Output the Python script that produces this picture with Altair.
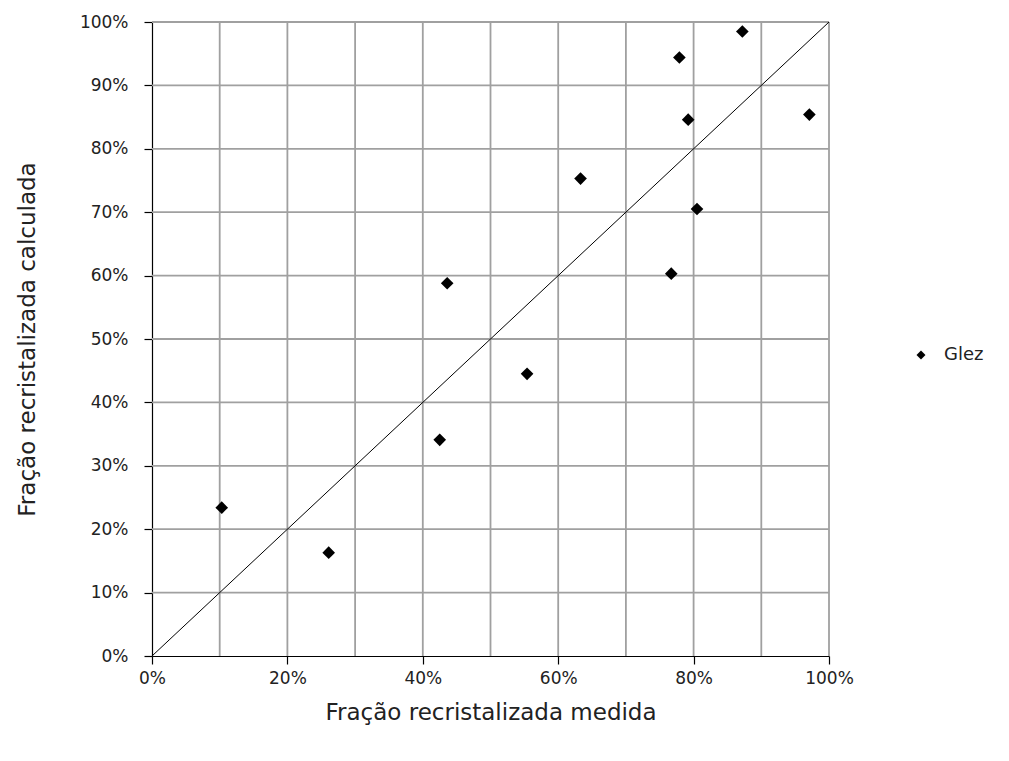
import altair as alt
import pandas as pd

# Data
medida = [0.103, 0.261, 0.425, 0.436, 0.554, 0.633, 0.767, 0.779, 0.792, 0.805, 0.872, 0.971]
calculada = [0.234, 0.163, 0.341, 0.588, 0.445, 0.753, 0.603, 0.944, 0.846, 0.705, 0.985, 0.854]
serie = ["Glez"] * len(medida)

grid_vals = [0.1, 0.2, 0.3, 0.4, 0.5, 0.6, 0.7, 0.8, 0.9, 1.0]
x_ticks = [0.0, 0.2, 0.4, 0.6, 0.8, 1.0]
y_ticks = [0.0, 0.1, 0.2, 0.3, 0.4, 0.5, 0.6, 0.7, 0.8, 0.9, 1.0]
diag = [0.0, 1.0]

FONT = "DejaVu Sans"
TXT = "#222222"

pts = pd.DataFrame({"medida": medida, "calculada": calculada, "serie": serie})
grid_df = pd.DataFrame({"g": grid_vals})
diag_df = pd.DataFrame({"a": diag, "b": diag})

xscale = alt.Scale(domain=[0, 1], nice=False, zero=True)
yscale = alt.Scale(domain=[0, 1], nice=False, zero=True)

XT = "Fração recristalizada medida"
YT = "Fração recristalizada calculada"

common = dict(
    format=".0%",
    grid=False,
    tickSize=8,
    tickColor="black",
    domainColor="black",
    domainWidth=1.2,
    tickWidth=1.2,
    labelFlush=False,
    labelFont=FONT,
    titleFont=FONT,
    labelFontSize=17,
    titleFontSize=23,
    titleFontWeight="normal",
    labelColor=TXT,
    titleColor=TXT,
)

xaxis = alt.Axis(title=XT, values=x_ticks, labelPadding=6, titlePadding=15, **common)
yaxis = alt.Axis(title=YT, values=y_ticks, labelPadding=16, titlePadding=40, **common)

grid_color = "#a0a0a0"

points = alt.Chart(pts).mark_point(filled=True, opacity=1, size=160, shape="diamond").encode(
    x=alt.X("medida:Q", scale=xscale, axis=xaxis, title=XT),
    y=alt.Y("calculada:Q", scale=yscale, axis=yaxis, title=YT),
    color=alt.Color(
        "serie:N",
        scale=alt.Scale(range=["black"]),
        legend=alt.Legend(
            title=None,
            orient="none",
            legendX=760,
            legendY=324,
            symbolType="diamond",
            symbolSize=80,
            labelFontSize=18,
            labelFont=FONT,
            labelColor=TXT,
            labelOffset=14,
        ),
    ),
)

vgrid = alt.Chart(grid_df).mark_rule(color=grid_color, strokeWidth=1.8).encode(
    x=alt.X("g:Q", scale=xscale, axis=xaxis, title=XT)
)
hgrid = alt.Chart(grid_df).mark_rule(color=grid_color, strokeWidth=1.8).encode(
    y=alt.Y("g:Q", scale=yscale, axis=yaxis, title=YT)
)

line = alt.Chart(diag_df).mark_line(color="black", strokeWidth=1).encode(
    x=alt.X("a:Q", scale=xscale, axis=xaxis, title=XT),
    y=alt.Y("b:Q", scale=yscale, axis=yaxis, title=YT),
)

chart = (
    alt.layer(vgrid, hgrid, line, points)
    .properties(
        width=677,
        height=634,
        background="white",
        autosize=alt.AutoSizeParams(type="none"),
        padding={"left": 144, "top": 14, "right": 170, "bottom": 90},
    )
    .configure_view(stroke=None)
)

chart.save("out.html", embed_options={"renderer": "svg", "actions": False})
